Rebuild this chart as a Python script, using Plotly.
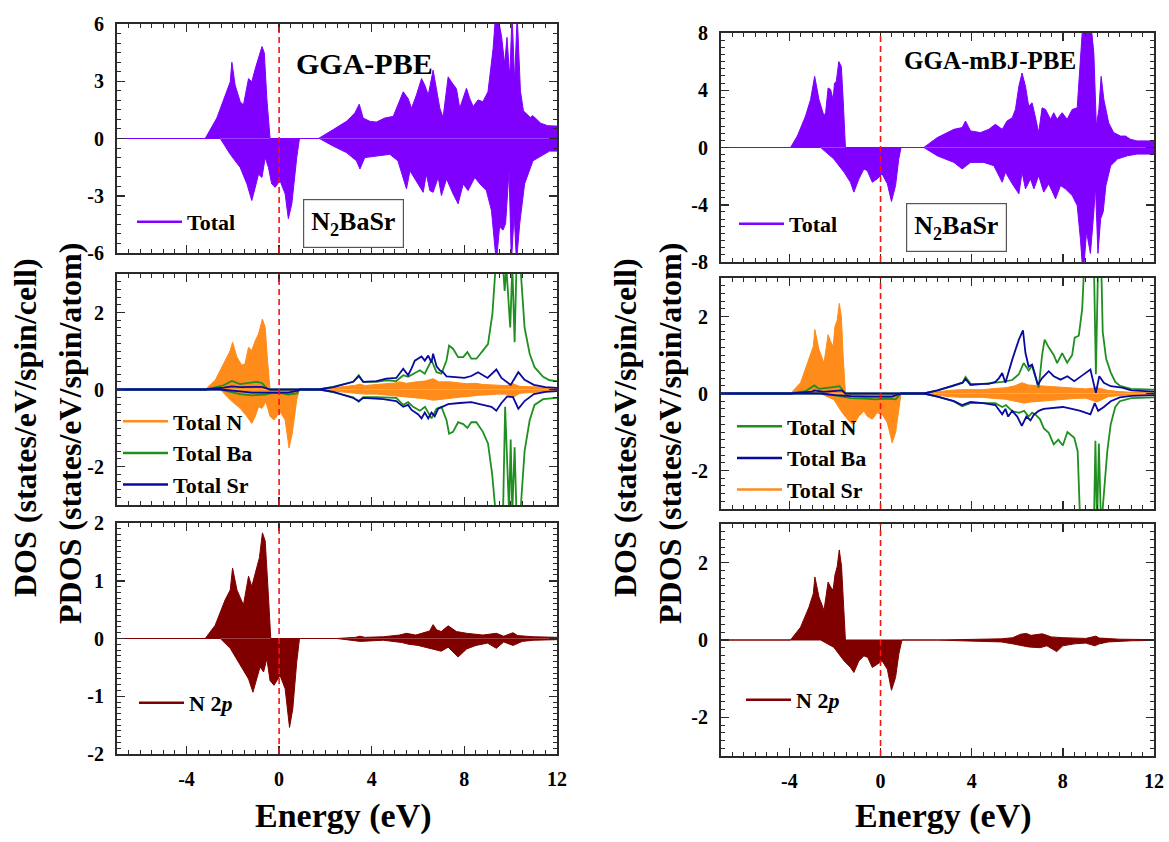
import plotly.graph_objects as go

FONT = "Liberation Serif"
W, H = 1169, 842

# ---------------- DATA (energies in eV, DOS values) ----------------
# GGA-PBE total DOS
pbe_tot_up_E = [-7, -3.19, -2.69, -2.33, -2.11, -2.04, -1.90, -1.68, -1.54, -1.32, -1.18, -1.03, -0.89, -0.74, -0.64, -0.53, -0.39,
                1.70, 2.34, 2.91, 3.27, 3.46, 3.63, 3.92, 4.20, 4.56, 4.93, 5.13, 5.36, 5.57, 5.72, 5.93, 6.15, 6.29, 6.44, 6.65,
                6.80, 6.94, 7.08, 7.30, 7.44, 7.66, 7.80, 8.09, 8.23, 8.38, 8.59, 8.80, 9.02, 9.24, 9.35, 9.52, 9.60, 9.74, 9.84,
                9.96, 10.06, 10.17, 10.28, 10.42, 10.55, 10.85, 10.95, 11.30, 11.60, 12.0]
pbe_tot_up = [0, 0, 1.07, 2.28, 2.97, 4.0, 2.8, 1.93, 1.76, 3.14, 2.97, 3.66, 4.18, 4.82, 4.5, 2.1, 0,
              0, 0.47, 0.9, 1.33, 1.8, 1.07, 0.9, 0.86, 1.07, 1.16, 1.76, 2.45, 2.1, 1.59, 2.28, 3.14, 2.8, 2.28, 3.58,
              2.45, 1.59, 1.1, 3.23, 2.97, 2.6, 1.59, 2.63, 2.1, 1.68, 2.02, 1.93, 2.45, 4.7, 6.5, 5.9, 5.4, 3.9, 5.3,
              3.2, 6.5, 3.0, 6.5, 2.5, 1.45, 1.1, 1.2, 0.8, 0.67, 0.65]
pbe_tot_dn_E = [-7, -2.54, -2.11, -1.68, -1.39, -1.18, -1.03, -0.89, -0.74, -0.60, -0.46, -0.32, -0.17, 0.04, 0.26, 0.40, 0.55,
                0.76, 0.88, 1.74, 2.34, 2.91, 3.34, 3.49, 3.70, 4.20, 4.78, 5.13, 5.36, 5.50, 5.65, 5.86, 6.01, 6.22, 6.36, 6.51,
                6.65, 6.87, 7.01, 7.23, 7.51, 7.73, 7.95, 8.16, 8.45, 8.67, 8.95, 9.17, 9.38, 9.52, 9.67, 9.78, 9.93, 10.03,
                10.15, 10.25, 10.39, 10.60, 10.96, 11.40, 11.68, 12.0]
pbe_tot_dn = [0, 0, -0.83, -1.52, -2.38, -3.25, -2.56, -1.87, -2.04, -1.0, -1.52, -2.38, -2.56, -2.21, -2.9, -4.2, -3.42,
              -1.0, 0, 0, -0.4, -0.74, -1.17, -1.6, -1.0, -0.92, -0.83, -1.17, -2.04, -2.64, -1.69, -2.12, -2.38, -2.82, -1.87, -2.73,
              -2.82, -2.04, -2.99, -2.12, -2.9, -3.42, -2.38, -2.73, -2.04, -2.38, -2.73, -3.77, -6.5, -4.63, -4.8, -4.46, -1.69, -6.5,
              -3.94, -6.5, -4.46, -2.38, -1.17, -0.83, -0.66, -0.66]

# GGA-PBE partial DOS: Total N (orange fill)
pbe_N_up_E = [-7, -3.19, -2.76, -2.40, -2.11, -2.01, -1.82, -1.61, -1.47, -1.32, -1.18, -1.03, -0.89, -0.72, -0.60, -0.50, -0.39,
              1.70, 2.3, 2.8, 3.06, 3.3, 3.49, 3.7, 4.0, 4.5, 5.0, 5.21, 5.5, 5.93, 6.3, 6.65, 6.9, 7.37, 7.7, 8.09, 8.5, 8.8,
              9.2, 9.52, 9.8, 10.1, 10.4, 10.96, 11.5, 12.0]
pbe_N_up = [0, 0, 0.24, 0.67, 1.01, 1.23, 0.84, 0.63, 0.67, 1.10, 1.01, 1.27, 1.44, 1.83, 1.61, 0.76, 0,
            0, 0.04, 0.07, 0.09, 0.11, 0.14, 0.1, 0.12, 0.14, 0.17, 0.2, 0.16, 0.2, 0.22, 0.28, 0.2, 0.2, 0.18, 0.15, 0.16, 0.13,
            0.12, 0.11, 0.1, 0.15, 0.08, 0.07, 0.04, 0.03]
pbe_N_dn_E = [-7, -2.54, -2.11, -1.68, -1.39, -1.18, -1.03, -0.89, -0.74, -0.57, -0.39, -0.22, 0.04, 0.26, 0.43, 0.57, 0.76, 0.88,
              1.74, 2.3, 2.8, 3.3, 3.7, 4.2, 4.7, 5.2, 5.6, 6.0, 6.3, 6.65, 7.0, 7.4, 7.8, 8.2, 8.6, 9.0, 9.4, 9.8, 10.1, 10.4,
              10.96, 11.5, 12.0]
pbe_N_dn = [0, 0, -0.27, -0.49, -0.70, -0.88, -0.70, -0.45, -0.49, -0.32, -0.70, -0.79, -0.58, -0.79, -1.52, -1.13, -0.27, 0,
            0, -0.04, -0.07, -0.10, -0.12, -0.12, -0.15, -0.18, -0.2, -0.22, -0.24, -0.28, -0.25, -0.22, -0.2, -0.18, -0.15, -0.14,
            -0.12, -0.12, -0.2, -0.1, -0.08, -0.05, -0.03]

# GGA-PBE partial DOS: Total Ba (green line)
pbe_Ba_up_E = [-7, -3.19, -2.83, -2.40, -2.04, -1.68, -1.32, -0.96, -0.74, -0.53, -0.39, 1.70, 2.34, 3.20, 3.44, 3.63, 4.20, 4.63,
               5.06, 5.36, 5.57, 5.79, 6.08, 6.29, 6.58, 6.80, 7.01, 7.23, 7.34, 7.51, 7.73, 7.95, 8.13, 8.30, 8.52, 8.80, 9.02,
               9.21, 9.35, 9.67, 9.74, 9.81, 9.98, 10.07, 10.17, 10.25, 10.42, 10.60, 10.82, 11.03, 11.40, 11.68, 12.0]
pbe_Ba_up = [0, 0, 0.05, 0.11, 0.22, 0.14, 0.17, 0.20, 0.17, 0.03, 0, 0, 0.07, 0.20, 0.37, 0.20, 0.20, 0.24,
             0.22, 0.37, 0.33, 0.41, 0.50, 0.41, 0.76, 0.45, 0.41, 0.76, 1.14, 1.06, 0.84, 0.84, 0.97, 0.80, 0.80, 1.01, 1.18,
             1.96, 3.2, 3.2, 2.56, 3.2, 1.61, 3.2, 1.23, 3.2, 3.2, 1.61, 0.93, 0.58, 0.33, 0.24, 0.22]
pbe_Ba_dn_E = [-7, -2.54, -2.11, -1.68, -1.18, -0.60, -0.39, 0.04, 0.40, 0.76, 0.88, 1.74, 2.34, 3.20, 3.44, 3.63, 4.20, 5.06,
               5.36, 5.57, 5.79, 6.08, 6.30, 6.58, 6.80, 7.01, 7.23, 7.34, 7.51, 7.73, 7.95, 8.13, 8.30, 8.52, 8.80, 9.02, 9.20,
               9.35, 9.67, 9.76, 9.93, 10.0, 10.07, 10.17, 10.25, 10.42, 10.60, 10.82, 11.03, 11.40, 12.0]
pbe_Ba_dn = [0, 0, -0.06, -0.12, -0.15, -0.13, -0.10, -0.09, -0.13, -0.1, 0, 0, -0.07, -0.20, -0.32, -0.20, -0.20, -0.22,
             -0.40, -0.33, -0.45, -0.55, -0.45, -0.75, -0.50, -0.45, -0.80, -1.15, -1.10, -0.85, -0.90, -1.00, -0.85, -0.85,
             -1.10, -1.40, -2.20, -3.2, -3.2, -0.45, -3.2, -1.3, -3.2, -1.5, -3.2, -3.2, -1.60, -0.80, -0.40, -0.25, -0.22]

# GGA-PBE partial DOS: Total Sr (blue line)
pbe_Sr_up_E = [-7, -3.19, -2.40, -2.04, -1.68, -1.32, -0.96, -0.74, -0.50, -0.39, 1.70, 2.34, 3.20, 3.44, 3.63, 4.20, 4.63, 5.06,
               5.36, 5.57, 5.72, 5.86, 6.15, 6.29, 6.44, 6.58, 6.65, 6.80, 6.94, 7.08, 7.23, 7.50, 8.00, 8.30, 8.59, 9.00, 9.38,
               9.60, 9.80, 10.00, 10.33, 10.60, 11.00, 11.50, 12.0]
pbe_Sr_up = [0, 0, 0.05, 0.08, 0.06, 0.07, 0.08, 0.07, 0.02, 0, 0, 0.06, 0.20, 0.35, 0.20, 0.22, 0.28, 0.30,
             0.54, 0.37, 0.55, 0.75, 0.86, 0.75, 0.88, 0.70, 0.93, 0.60, 0.50, 0.45, 0.34, 0.33, 0.30, 0.35, 0.45, 0.30, 0.52,
             0.30, 0.20, 0.12, 0.45, 0.25, 0.12, 0.06, 0.04]
pbe_Sr_dn_E = [-7, -2.54, -1.68, -1.18, -0.60, 0.0, 0.40, 0.80, 0.88, 1.74, 2.34, 3.20, 3.44, 3.63, 4.50, 5.06, 5.36, 5.57,
               5.72, 6.01, 6.15, 6.29, 6.44, 6.58, 6.72, 6.87, 7.08, 7.30, 7.80, 8.30, 8.80, 9.17, 9.38, 9.60, 9.85, 10.10,
               10.33, 10.60, 11.00, 11.50, 12.0]
pbe_Sr_dn = [0, 0, -0.05, -0.08, -0.08, -0.08, -0.08, -0.03, 0, 0, -0.06, -0.22, -0.30, -0.22, -0.25, -0.30, -0.45, -0.40,
             -0.53, -0.65, -0.75, -0.60, -0.75, -0.60, -0.70, -0.50, -0.45, -0.38, -0.35, -0.33, -0.40, -0.45, -0.55, -0.35,
             -0.18, -0.20, -0.50, -0.30, -0.12, -0.06, -0.04]

# GGA-PBE N 2p
pbe_N2p_up_E = [-7, -3.19, -2.76, -2.33, -2.11, -2.01, -1.82, -1.54, -1.32, -1.18, -1.03, -0.85, -0.72, -0.60, -0.48, -0.36,
                2.5, 3.3, 3.49, 3.7, 4.5, 5.2, 5.5, 5.9, 6.5, 6.65, 6.8, 7.0, 7.3, 7.66, 8.1, 8.8, 9.38, 9.7, 10.1, 10.3, 11.0, 12.0]
pbe_N2p_up = [0, 0, 0.23, 0.67, 0.84, 1.22, 0.84, 0.58, 1.08, 0.90, 1.13, 1.40, 1.83, 1.69, 0.87, 0,
              0, 0.02, 0.04, 0.02, 0.03, 0.06, 0.09, 0.06, 0.13, 0.24, 0.15, 0.12, 0.22, 0.12, 0.09, 0.06, 0.09, 0.04, 0.10, 0.05, 0.03, 0.02]
pbe_N2p_dn_E = [-7, -2.54, -2.11, -1.68, -1.32, -1.13, -0.96, -0.82, -0.67, -0.53, -0.39, -0.22, 0.04, 0.26, 0.45, 0.59, 0.76,
                0.88, 2.5, 3.0, 3.5, 4.5, 5.3, 5.6, 6.0, 6.3, 6.87, 7.0, 7.3, 7.73, 8.1, 8.5, 9.0, 9.38, 9.7, 10.1, 10.5, 11.0, 12.0]
pbe_N2p_dn = [0, 0, -0.17, -0.47, -0.70, -0.93, -0.70, -0.49, -0.58, -0.35, -0.73, -0.81, -0.64, -0.87, -1.54, -1.22, -0.41,
              0, 0, -0.02, -0.05, -0.03, -0.07, -0.10, -0.12, -0.15, -0.20, -0.22, -0.15, -0.32, -0.18, -0.12, -0.08, -0.17, -0.06,
              -0.12, -0.05, -0.03, -0.02]

# GGA-mBJ-PBE total DOS
mbj_tot_up_E = [-7, -3.95, -3.65, -3.29, -3.07, -2.89, -2.70, -2.48, -2.41, -2.30, -2.19, -2.08, -2.02, -1.94, -1.83, -1.72, -1.64,
                -1.54, 1.90, 2.49, 3.22, 3.58, 3.73, 3.95, 4.39, 4.75, 5.04, 5.34, 5.55, 5.78, 5.92, 6.07, 6.21, 6.36, 6.50, 6.65,
                6.77, 6.94, 7.09, 7.24, 7.46, 7.60, 7.75, 7.97, 8.19, 8.41, 8.63, 8.77, 8.89, 9.21, 9.36, 9.47, 9.58, 9.68, 9.80,
                10.01, 10.23, 10.53, 10.75, 10.96, 11.26, 12.0]
mbj_tot_up = [0, 0, 0.8, 2.2, 3.35, 4.97, 3.35, 2.2, 2.43, 4.16, 4.05, 3.35, 4.5, 4.62, 6.0, 5.66, 3.35,
              0, 0, 0.69, 1.27, 1.39, 1.85, 1.16, 1.04, 1.27, 1.62, 1.27, 1.85, 2.08, 2.66, 4.28, 5.2, 4.28, 2.89, 3.12,
              2.31, 1.04, 2.77, 2.66, 1.97, 2.43, 1.97, 2.43, 1.97, 2.66, 2.77, 5.66, 9.0, 9.0, 6.6, 1.5, 2.66, 4.97, 3.35,
              1.73, 1.04, 0.8, 0.8, 0.58, 0.46, 0.46]
mbj_tot_dn_E = [-7, -2.63, -2.05, -1.60, -1.32, -1.17, -0.95, -0.73, -0.58, -0.36, -0.15, 0.07, 0.30, 0.48, 0.66, 0.80, 0.90,
                1.90, 2.49, 3.22, 3.58, 3.95, 4.53, 4.97, 5.34, 5.48, 5.78, 6.07, 6.21, 6.36, 6.58, 6.73, 6.94, 7.16, 7.38, 7.68,
                7.90, 8.11, 8.41, 8.63, 8.77, 8.89, 9.04, 9.21, 9.36, 9.43, 9.54, 9.66, 9.77, 9.89, 10.10, 10.40, 10.83, 11.26, 12.0]
mbj_tot_dn = [0, 0, -0.8, -1.73, -2.43, -3.12, -2.2, -1.5, -1.62, -2.43, -2.2, -1.85, -2.54, -3.77, -2.66, -0.8, 0,
              0, -0.58, -1.04, -1.5, -1.04, -1.04, -1.27, -2.43, -1.73, -2.54, -3.24, -1.73, -2.89, -2.2, -2.89, -1.97, -3.12,
              -2.54, -3.58, -2.66, -2.89, -3.35, -4.05, -6.36, -9.0, -5.9, -7.4, -4.5, -2.66, -7.4, -4.97, -4.5, -2.66, -1.27,
              -0.8, -0.58, -0.46, -0.46]

# GGA-mBJ-PBE partial DOS: orange fill (labelled "Total Sr")
mbj_org_up_E = [-7, -3.95, -3.51, -3.14, -2.95, -2.88, -2.70, -2.48, -2.30, -2.19, -2.08, -2.00, -1.90, -1.81, -1.72, -1.64, -1.54,
                1.90, 2.5, 3.0, 3.5, 4.0, 4.5, 5.0, 5.5, 5.9, 6.2, 6.5, 7.0, 7.5, 8.0, 8.5, 9.0, 9.5, 10.0, 10.5, 11.0, 12.0]
mbj_org_up = [0, 0, 0.28, 0.88, 1.22, 1.66, 1.14, 0.79, 1.53, 1.35, 1.22, 1.74, 1.91, 2.34, 2.0, 0.97, 0,
              0, 0.05, 0.08, 0.1, 0.1, 0.1, 0.13, 0.15, 0.2, 0.28, 0.22, 0.2, 0.17, 0.15, 0.13, 0.12, 0.15, 0.08, 0.05, 0.03, 0.02]
mbj_org_dn_E = [-7, -2.63, -2.05, -1.68, -1.32, -1.17, -0.95, -0.73, -0.58, -0.36, -0.15, 0.07, 0.30, 0.51, 0.66, 0.80, 0.90,
                1.90, 2.5, 3.0, 3.5, 4.0, 4.5, 5.0, 5.5, 5.9, 6.3, 6.6, 7.0, 7.5, 8.0, 8.5, 9.0, 9.5, 10.0, 10.5, 11.0, 12.0]
mbj_org_dn = [0, 0, -0.16, -0.5, -0.76, -0.8, -0.59, -0.46, -0.59, -0.67, -0.5, -0.54, -0.76, -1.28, -1.02, -0.33, 0,
              0, -0.05, -0.08, -0.1, -0.1, -0.1, -0.13, -0.15, -0.2, -0.25, -0.22, -0.2, -0.17, -0.15, -0.13, -0.12, -0.22,
              -0.08, -0.05, -0.03, -0.02]

# GGA-mBJ-PBE partial DOS: green line (labelled "Total N")
mbj_grn_up_E = [-7, -3.95, -3.30, -2.90, -2.70, -2.30, -2.00, -1.80, -1.64, -1.54, 1.90, 2.50, 3.20, 3.60, 3.73, 3.95, 4.50, 5.04,
                5.34, 5.78, 6.07, 6.28, 6.50, 6.65, 6.80, 6.94, 7.09, 7.20, 7.38, 7.60, 7.75, 7.97, 8.19, 8.41, 8.52, 8.70, 8.85,
                8.95, 9.36, 9.45, 9.55, 9.68, 9.75, 9.90, 10.10, 10.30, 10.50, 11.00, 12.0]
mbj_grn_up = [0, 0, 0.06, 0.21, 0.12, 0.14, 0.17, 0.19, 0.08, 0, 0, 0.08, 0.2, 0.28, 0.43, 0.25, 0.25, 0.28,
              0.3, 0.35, 0.5, 0.79, 0.6, 0.72, 0.4, 0.15, 1.0, 1.4, 1.2, 1.0, 0.79, 1.05, 0.8, 1.0, 1.45, 1.5, 2.2,
              3.5, 3.5, 0.5, 3.5, 3.5, 1.6, 0.9, 0.55, 0.3, 0.2, 0.12, 0.10]
mbj_grn_dn_E = [-7, -2.63, -2.00, -1.30, -0.70, -0.20, 0.30, 0.66, 0.90, 1.90, 2.50, 3.20, 3.58, 3.95, 4.50, 5.04, 5.34, 5.50,
                5.78, 6.07, 6.30, 6.50, 6.65, 6.80, 7.00, 7.16, 7.38, 7.60, 7.80, 8.00, 8.20, 8.50, 8.65, 8.77, 9.36, 9.43, 9.50,
                9.58, 9.68, 9.80, 9.95, 10.10, 10.30, 10.50, 11.00, 12.0]
mbj_grn_dn = [0, 0, -0.05, -0.12, -0.13, -0.15, -0.13, -0.15, 0, 0, -0.08, -0.2, -0.33, -0.25, -0.25, -0.25, -0.35, -0.3,
              -0.46, -0.5, -0.45, -0.6, -0.5, -0.55, -0.67, -0.9, -1.02, -1.32, -1.2, -1.35, -1.0, -1.15, -1.5, -3.5, -3.5, -1.23,
              -3.5, -1.3, -3.5, -2.5, -1.5, -0.8, -0.35, -0.2, -0.12, -0.1]

# GGA-mBJ-PBE partial DOS: blue line (labelled "Total Ba")
mbj_blu_up_E = [-7, -3.95, -3.00, -2.90, -2.50, -2.00, -1.70, -1.54, 1.90, 2.50, 3.20, 3.60, 3.73, 3.95, 4.50, 4.75, 5.04, 5.20,
                5.34, 5.48, 5.78, 6.07, 6.25, 6.36, 6.50, 6.65, 6.75, 6.90, 7.09, 7.38, 7.60, 7.90, 8.20, 8.50, 8.90, 9.21, 9.38,
                9.45, 9.60, 9.80, 10.10, 10.60, 11.00, 12.0]
mbj_blu_up = [0, 0, 0.05, 0.08, 0.04, 0.07, 0.08, 0, 0, 0.08, 0.2, 0.28, 0.38, 0.22, 0.25, 0.25, 0.3, 0.4,
              0.53, 0.28, 0.88, 1.4, 1.64, 1.05, 0.7, 0.75, 0.55, 0.23, 0.4, 0.58, 0.45, 0.36, 0.45, 0.32, 0.49, 0.62, 0.19,
              0.02, 0.45, 0.28, 0.19, 0.15, 0.08, 0.05]
mbj_blu_dn_E = [-7, -2.63, -2.00, -1.30, -0.50, 0.0, 0.50, 0.90, 1.90, 2.50, 3.22, 3.58, 3.95, 4.50, 5.04, 5.34, 5.48, 5.60,
                5.78, 6.00, 6.20, 6.40, 6.58, 6.73, 6.94, 7.16, 7.50, 8.00, 8.40, 8.77, 9.21, 9.40, 9.55, 9.80, 10.10, 10.50, 11.00, 12.0]
mbj_blu_dn = [0, 0, -0.04, -0.07, -0.08, -0.08, -0.08, 0, 0, -0.08, -0.2, -0.3, -0.22, -0.25, -0.3, -0.54, -0.4, -0.6,
              -0.45, -0.6, -0.84, -0.6, -0.7, -0.55, -0.45, -0.4, -0.38, -0.35, -0.4, -0.45, -0.54, -0.25, -0.45, -0.35, -0.2,
              -0.1, -0.06, -0.04]

# GGA-mBJ-PBE N 2p
mbj_N2p_up_E = [-7, -3.95, -3.51, -3.14, -2.95, -2.88, -2.70, -2.48, -2.30, -2.19, -2.08, -2.00, -1.90, -1.81, -1.71, -1.61, -1.54,
                2.5, 3.5, 4.5, 5.3, 5.8, 6.15, 6.4, 6.6, 7.1, 7.2, 7.5, 8.0, 8.5, 9.0, 9.45, 9.6, 10.5, 12.0]
mbj_N2p_up = [0, 0, 0.33, 0.85, 1.2, 1.63, 1.11, 0.77, 1.5, 1.37, 1.29, 1.68, 1.9, 2.33, 1.9, 0.77, 0,
              0, 0.01, 0.02, 0.03, 0.06, 0.15, 0.17, 0.12, 0.16, 0.14, 0.08, 0.06, 0.05, 0.04, 0.10, 0.05, 0.02, 0.01]
mbj_N2p_dn_E = [-7, -2.63, -2.05, -1.60, -1.32, -1.17, -0.95, -0.73, -0.56, -0.36, -0.15, 0.07, 0.30, 0.48, 0.66, 0.80, 0.94,
                2.5, 3.5, 4.5, 5.3, 5.8, 6.2, 6.5, 7.0, 7.3, 7.73, 8.0, 8.5, 9.0, 9.4, 9.6, 10.0, 11.0, 12.0]
mbj_N2p_dn = [0, 0, -0.19, -0.54, -0.71, -0.84, -0.54, -0.41, -0.45, -0.71, -0.63, -0.54, -0.76, -1.3, -0.97, -0.37, 0,
              0, -0.02, -0.03, -0.05, -0.1, -0.15, -0.18, -0.2, -0.15, -0.3, -0.15, -0.1, -0.08, -0.15, -0.1, -0.05, -0.02, -0.01]

# tick labels
x_ticks = [-4, 0, 4, 8, 12]
y_ticks = {
    1: [-6, -3, 0, 3, 6],
    2: [-2, 0, 2],
    3: [-2, -1, 0, 1, 2],
    4: [-8, -4, 0, 4, 8],
    5: [-2, 0, 2],
    6: [-2, 0, 2],
}

PURPLE = "#8000FF"
ORANGE = "#FF8C1A"
GREEN = "#1F8F1F"
BLUE = "#0A0AA0"
DARKRED = "#800000"

# ---------------- FIGURE ----------------
fig = go.Figure()


def px_x(p):
    return p / W


def px_y(p):
    return 1 - p / H


# panel pixel boxes: (x0, x1, ytop, ybottom)
panels = {
    1: (117, 557, 24, 253),
    2: (117, 557, 274, 505),
    3: (117, 557, 523, 754),
    4: (721, 1154, 33, 262),
    5: (721, 1154, 278, 509),
    6: (721, 1154, 524, 756),
}
yspec = {
    1: ([-6, 6], 0.5),
    2: ([-3, 3], 0.2),
    3: ([-2, 2], 0.1),
    4: ([-8, 8], 0.5),
    5: ([-3, 3], 0.2),
    6: ([-3, 3], 0.2),
}

AXC = "#2a2a2a"
tickfont = dict(family=FONT, size=20, color="black", weight="bold")


def lab(v):
    return "-%d" % abs(v) if v < 0 else "%d" % v


for i, (x0, x1, yt, yb) in panels.items():
    sfx = "" if i == 1 else str(i)
    rng, mdt = yspec[i]
    fig.update_layout(**{
        "xaxis" + sfx: dict(
            domain=[px_x(x0), px_x(x1)], anchor="y" + sfx, range=[-7, 12],
            tickmode="array", tickvals=x_ticks, ticktext=[lab(v) for v in x_ticks],
            showticklabels=(i in (3, 6)), ticks="inside", ticklen=8, tickwidth=1.5, tickcolor=AXC,
            showline=True, linecolor=AXC, linewidth=2, mirror="allticks",
            showgrid=False, zeroline=False, tickfont=tickfont, ticklabelstandoff=6, automargin=False,
            minor=dict(ticks="inside", ticklen=4, tickwidth=1, tickcolor=AXC, dtick=0.5, tick0=0, showgrid=False),
        ),
        "yaxis" + sfx: dict(
            domain=[px_y(yb), px_y(yt)], anchor="x" + sfx, range=rng,
            tickmode="array", tickvals=y_ticks[i], ticktext=[lab(v) for v in y_ticks[i]],
            ticks="inside", ticklen=8, tickwidth=1.5, tickcolor=AXC,
            showline=True, linecolor=AXC, linewidth=2, mirror="allticks",
            showgrid=False, zeroline=False, tickfont=tickfont, ticklabelstandoff=7, automargin=False,
            minor=dict(ticks="inside", ticklen=4, tickwidth=1, tickcolor=AXC, dtick=mdt, tick0=0, showgrid=False),
        ),
    })


def ax(i):
    return ("x" if i == 1 else "x%d" % i), ("y" if i == 1 else "y%d" % i)


def add_fill(i, E, v, color):
    xa, ya = ax(i)
    fig.add_trace(go.Scatter(x=E, y=v, mode="lines", line=dict(color=color, width=1),
                             fill="tozeroy", fillcolor=color, xaxis=xa, yaxis=ya,
                             showlegend=False, hoverinfo="skip"))


def add_line(i, E, v, color):
    xa, ya = ax(i)
    fig.add_trace(go.Scatter(x=E, y=v, mode="lines", line=dict(color=color, width=1.8),
                             xaxis=xa, yaxis=ya, showlegend=False, hoverinfo="skip"))


def add_key(i, name, color, legend):
    xa, ya = ax(i)
    fig.add_trace(go.Scatter(x=[None], y=[None], mode="lines", line=dict(color=color, width=2.5),
                             name=name, legend=legend, xaxis=xa, yaxis=ya, showlegend=True))


# Left column (GGA-PBE)
add_fill(1, pbe_tot_up_E, pbe_tot_up, PURPLE)
add_fill(1, pbe_tot_dn_E, pbe_tot_dn, PURPLE)
add_key(1, "Total", PURPLE, "legend")

add_fill(2, pbe_N_up_E, pbe_N_up, ORANGE)
add_fill(2, pbe_N_dn_E, pbe_N_dn, ORANGE)
add_line(2, pbe_Ba_up_E, pbe_Ba_up, GREEN)
add_line(2, pbe_Ba_dn_E, pbe_Ba_dn, GREEN)
add_line(2, pbe_Sr_up_E, pbe_Sr_up, BLUE)
add_line(2, pbe_Sr_dn_E, pbe_Sr_dn, BLUE)
add_key(2, "Total N", ORANGE, "legend2")
add_key(2, "Total Ba", GREEN, "legend2")
add_key(2, "Total Sr", BLUE, "legend2")

add_fill(3, pbe_N2p_up_E, pbe_N2p_up, DARKRED)
add_fill(3, pbe_N2p_dn_E, pbe_N2p_dn, DARKRED)
add_key(3, "N 2<i>p</i>", DARKRED, "legend3")

# Right column (GGA-mBJ-PBE)
add_fill(4, mbj_tot_up_E, mbj_tot_up, PURPLE)
add_fill(4, mbj_tot_dn_E, mbj_tot_dn, PURPLE)
add_key(4, "Total", PURPLE, "legend4")

add_fill(5, mbj_org_up_E, mbj_org_up, ORANGE)
add_fill(5, mbj_org_dn_E, mbj_org_dn, ORANGE)
add_line(5, mbj_grn_up_E, mbj_grn_up, GREEN)
add_line(5, mbj_grn_dn_E, mbj_grn_dn, GREEN)
add_line(5, mbj_blu_up_E, mbj_blu_up, BLUE)
add_line(5, mbj_blu_dn_E, mbj_blu_dn, BLUE)
add_key(5, "Total N", GREEN, "legend5")
add_key(5, "Total Ba", BLUE, "legend5")
add_key(5, "Total Sr", ORANGE, "legend5")

add_fill(6, mbj_N2p_up_E, mbj_N2p_up, DARKRED)
add_fill(6, mbj_N2p_dn_E, mbj_N2p_dn, DARKRED)
add_key(6, "N 2<i>p</i>", DARKRED, "legend6")

# Fermi level dashed lines
for i in panels:
    xa, ya = ax(i)
    fig.add_shape(type="line", xref=xa, yref=ya + " domain", x0=0, x1=0, y0=0, y1=1,
                  line=dict(color="#FF1010", width=1.6, dash="6px,4px"), layer="above")

legfont = dict(family=FONT, size=22, color="black", weight="bold")


def leg(xp, yp):
    return dict(x=px_x(xp), y=px_y(yp), xanchor="left", yanchor="middle", bgcolor="rgba(0,0,0,0)",
                borderwidth=0, font=legfont, itemwidth=45, tracegroupgap=0, traceorder="normal",
                itemclick=False, itemdoubleclick=False)


fig.update_layout(
    legend=leg(132, 222),
    legend2=leg(118, 453),
    legend3=leg(134, 703),
    legend4=leg(734, 224),
    legend5=leg(732, 458),
    legend6=leg(741, 700),
)

ann = []
tfont = dict(family=FONT, size=32, color="black", weight="bold")
for xp in (25, 625):
    ann.append(dict(text="DOS (states/eV/spin/cell)", x=px_x(xp), y=px_y(428), xref="paper", yref="paper",
                    textangle=-90, showarrow=False, font=tfont, xanchor="center", yanchor="middle"))
for xp in (70, 670):
    ann.append(dict(text="PDOS (states/eV/spin/atom)", x=px_x(xp), y=px_y(434), xref="paper", yref="paper",
                    textangle=-90, showarrow=False, font=tfont, xanchor="center", yanchor="middle"))
for xp in (343, 943):
    ann.append(dict(text="Energy (eV)", x=px_x(xp), y=px_y(816), xref="paper", yref="paper",
                    showarrow=False, font=dict(family=FONT, size=34, color="black", weight="bold"),
                    xanchor="center", yanchor="middle"))
ann.append(dict(text="GGA-PBE", x=px_x(364), y=px_y(63), xref="paper", yref="paper", showarrow=False,
                font=dict(family=FONT, size=30, color="black", weight="bold"), xanchor="center", yanchor="middle"))
ann.append(dict(text="GGA-mBJ-PBE", x=px_x(990), y=px_y(60), xref="paper", yref="paper", showarrow=False,
                font=dict(family=FONT, size=25, color="black", weight="bold"), xanchor="center", yanchor="middle"))
for (xp, yp) in ((353, 223), (956, 227)):
    ann.append(dict(text="N<sub>2</sub>BaSr", x=px_x(xp), y=px_y(yp), xref="paper", yref="paper", showarrow=False,
                    font=dict(family=FONT, size=26, color="black", weight="bold"), xanchor="center", yanchor="middle",
                    bordercolor="#555", borderwidth=1.2, borderpad=7, bgcolor="white"))

fig.update_layout(
    width=W, height=H, autosize=False,
    margin=dict(l=0, r=0, t=0, b=0, pad=0, autoexpand=False),
    paper_bgcolor="white", plot_bgcolor="white",
    annotations=ann,
    font=dict(family=FONT, color="black"),
)

fig.write_html("out.html", config={"displayModeBar": False, "staticPlot": True},
               post_script="document.body.style.margin='0';document.body.style.overflow='hidden';")
